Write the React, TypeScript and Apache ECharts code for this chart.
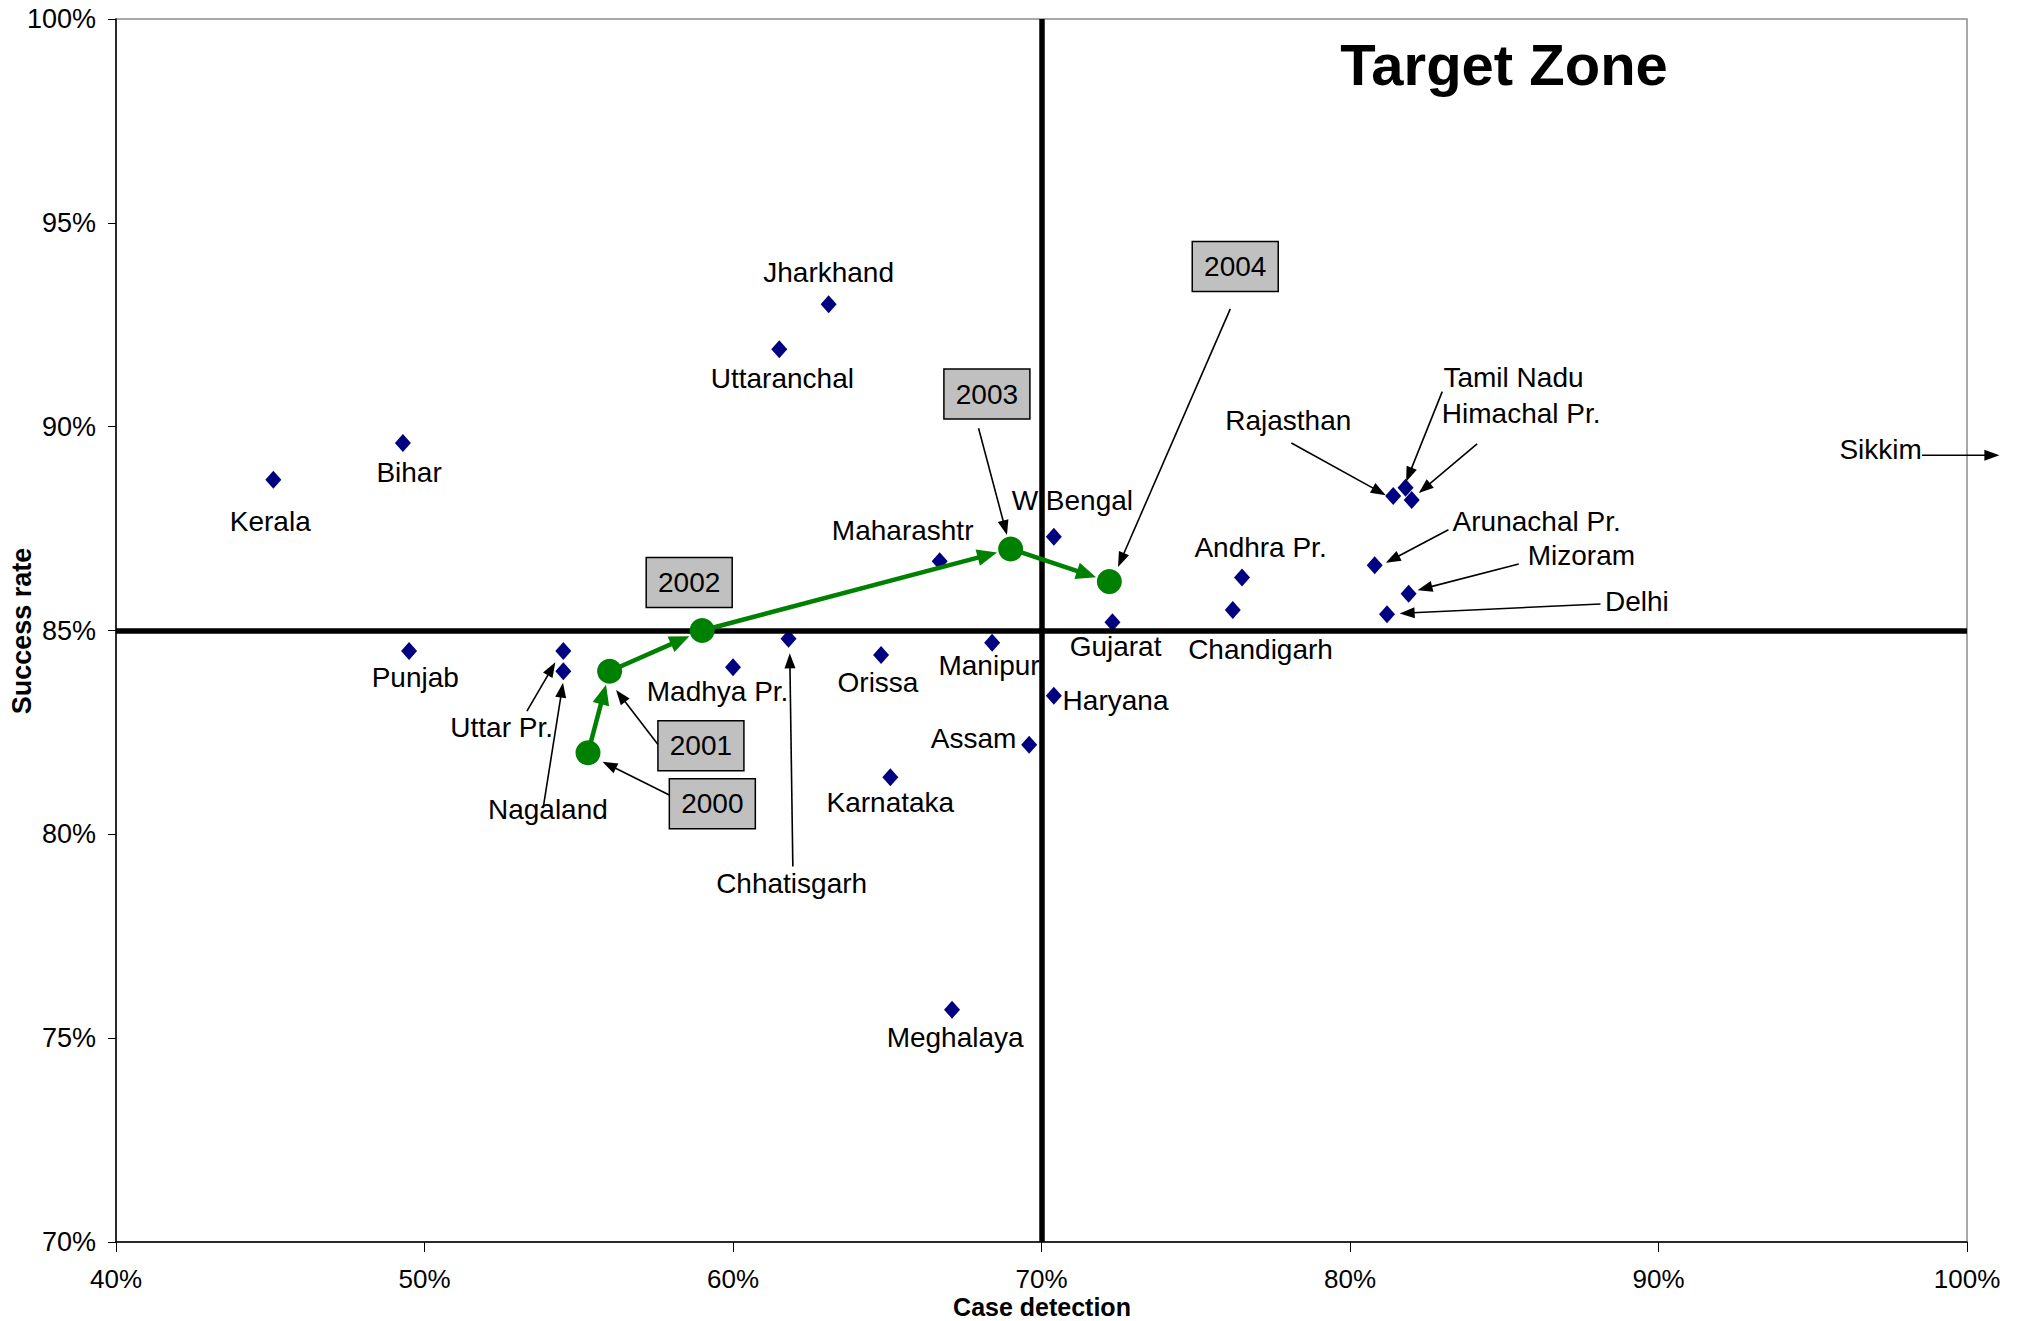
import React, { useEffect, useRef } from "react";
import * as echarts from "echarts";

const FONT = "'Liberation Sans', Arial, Helvetica, sans-serif";

// ---- data ----
const stateNames = ["Kerala", "Bihar", "Punjab", "Uttar Pr.", "Nagaland", "Madhya Pr.", "Chhatisgarh", "Uttaranchal", "Jharkhand", "Orissa", "Karnataka", "Maharashtr", "Manipur", "Meghalaya", "Assam", "W Bengal", "Haryana", "Gujarat", "Chandigarh", "Andhra Pr.", "Arunachal Pr.", "Delhi", "Mizoram", "Rajasthan", "Tamil Nadu", "Himachal Pr."];
const stateCaseDetection = [45.1, 49.3, 49.5, 54.5, 54.5, 60.0, 61.8, 61.5, 63.1, 64.8, 65.1, 66.7, 68.4, 67.1, 69.6, 70.4, 70.4, 72.3, 76.2, 76.5, 80.8, 81.2, 81.9, 81.4, 81.8, 82.0];
const stateSuccessRate = [88.7, 89.6, 84.5, 84.5, 84.0, 84.1, 84.8, 91.9, 93.0, 84.4, 81.4, 86.7, 84.7, 75.7, 82.2, 87.3, 83.4, 85.2, 85.5, 86.3, 86.6, 85.4, 85.9, 88.3, 88.5, 88.2];

const years = ["2000", "2001", "2002", "2003", "2004"];
const yearCaseDetection = [55.3, 56.0, 59.0, 69.0, 72.2];
const yearSuccessRate = [82.0, 84.0, 85.0, 87.0, 86.2];

const sikkimSuccessRate = 89.3;

const xTicks = [40, 50, 60, 70, 80, 90, 100];
const yTicks = [70, 75, 80, 85, 90, 95, 100];
const targetCaseDetection = 70;
const targetSuccessRate = 85;

// ---- annotation layout (data coordinates) ----
const stateLabelAt: number[][] = [
  [45.0, 87.67], [49.5, 88.87], [49.7, 83.84], [52.5, 82.61], [54.0, 80.62],
  [59.5, 83.5], [61.9, 78.79], [61.6, 91.18], [63.1, 93.77], [64.7, 83.72],
  [65.1, 80.78], [65.5, 87.45], [68.3, 84.13], [67.2, 75.02], [67.8, 82.36],
  [71.0, 88.18], [72.4, 83.28], [72.4, 84.6], [77.1, 84.54], [77.1, 87.04],
  [86.05, 87.67], [89.3, 85.71], [87.5, 86.85], [78.0, 90.14], [85.3, 91.21],
  [85.55, 90.33],
];
const sikkimLabelAt = [97.2, 89.44];

const yearBoxAt: number[][] = [[59.33, 80.75], [58.96, 82.17], [58.58, 86.18], [68.23, 90.8], [76.28, 93.93]];

const calloutFrom: number[][] = [
  [53.32, 83.02], [53.86, 80.71], [61.94, 79.21], [78.1, 89.6], [82.99, 90.86],
  [84.12, 89.58], [83.19, 87.47], [85.47, 86.63], [88.12, 85.65], [98.54, sikkimSuccessRate],
  [76.12, 92.89], [67.96, 89.96], [57.58, 82.19], [57.95, 80.96],
];
const calloutTo: number[][] = [
  [54.24, 84.22], [54.49, 83.72], [61.84, 84.44], [81.16, 88.32], [81.82, 88.65],
  [82.23, 88.37], [81.16, 86.66], [82.19, 85.99], [81.61, 85.42], [101.05, sikkimSuccessRate],
  [72.48, 86.56], [68.88, 87.34], [56.21, 83.54], [55.77, 81.78],
];

function arrowElements(p0: number[], p1: number[], color: string, width: number, headLen: number, headW: number, z: number) {
  const dx = p1[0] - p0[0];
  const dy = p1[1] - p0[1];
  const len = Math.sqrt(dx * dx + dy * dy) || 1;
  const ux = dx / len, uy = dy / len;
  const bx = p1[0] - ux * headLen, by = p1[1] - uy * headLen;
  const px = -uy, py = ux;
  return [
    {
      type: "line", z, silent: true,
      shape: { x1: p0[0], y1: p0[1], x2: bx + ux * 2, y2: by + uy * 2 },
      style: { stroke: color, lineWidth: width },
    },
    {
      type: "polygon", z, silent: true,
      shape: { points: [[p1[0], p1[1]], [bx + px * headW / 2, by + py * headW / 2], [bx - px * headW / 2, by - py * headW / 2]] },
      style: { fill: color },
    },
  ];
}

export default function App() {
  const ref = useRef<HTMLDivElement>(null);
  useEffect(() => {
    document.body.style.margin = "0";
    const chart = echarts.init(ref.current!, null, { renderer: "svg" });
    const option: any = {
      animation: false,
      backgroundColor: "#fff",
      grid: { left: 116, right: 53, top: 19, bottom: 79, show: true, borderColor: "#8c8c8c", borderWidth: 1.5 },
      xAxis: {
        type: "value", min: 40, max: 100, interval: 10,
        axisLine: { show: true, lineStyle: { color: "#000", width: 1.5 } },
        axisTick: { show: true, length: 10, lineStyle: { color: "#000" } },
        axisLabel: { margin: 25, fontSize: 26, lineHeight: 24, color: "#000", fontFamily: FONT, formatter: (v: number) => (xTicks.includes(v) ? v + "%" : "") },
        splitLine: { show: false },
      },
      yAxis: {
        type: "value", min: 70, max: 100, interval: 5,
        axisLine: { show: true, lineStyle: { color: "#000", width: 1.5 } },
        axisTick: { show: true, length: 8, lineStyle: { color: "#000" } },
        axisLabel: { margin: 20, fontSize: 27, color: "#000", fontFamily: FONT, formatter: (v: number) => (yTicks.includes(v) ? v + "%" : "") },
        splitLine: { show: false },
      },
      series: [
        {
          type: "scatter", name: "States", symbol: "diamond", symbolSize: [16, 18], z: 3,
          itemStyle: { color: "#000080", opacity: 1 },
          data: stateNames.map((n, i) => ({ name: n, value: [stateCaseDetection[i], stateSuccessRate[i]] })),
          markLine: {
            silent: true, symbol: "none", z: 4,
            label: { show: false },
            lineStyle: { color: "#000", width: 5.5, type: "solid", opacity: 1 },
            data: [{ xAxis: targetCaseDetection }, { yAxis: targetSuccessRate }],
          },
        },
        {
          type: "scatter", name: "India", symbol: "circle", symbolSize: 25, z: 10,
          itemStyle: { color: "#008000", opacity: 1 },
          data: years.map((y, i) => ({ name: y, value: [yearCaseDetection[i], yearSuccessRate[i]] })),
        },
      ],
    };
    chart.setOption(option);

    const toPx = (p: number[]) => chart.convertToPixel({ gridIndex: 0 }, p) as number[];
    const graphics: any[] = [];

    // green trajectory arrows
    for (let i = 0; i < years.length - 1; i++) {
      const a = toPx([yearCaseDetection[i], yearSuccessRate[i]]);
      const b = toPx([yearCaseDetection[i + 1], yearSuccessRate[i + 1]]);
      const dx = b[0] - a[0], dy = b[1] - a[1];
      const l = Math.sqrt(dx * dx + dy * dy);
      const tip = [b[0] - (dx / l) * 14, b[1] - (dy / l) * 14];
      graphics.push(...arrowElements(a, tip, "#008000", 4.5, 20, 17, 8));
    }

    // callout arrows
    for (let i = 0; i < calloutFrom.length; i++) {
      graphics.push(...arrowElements(toPx(calloutFrom[i]), toPx(calloutTo[i]), "#000", 1.6, 15, 11, 12));
    }

    // state labels
    const labelStyle = { fontSize: 28, fontFamily: FONT, fill: "#000", align: "center", verticalAlign: "middle" };
    stateNames.forEach((n, i) => {
      const p = toPx(stateLabelAt[i]);
      graphics.push({ type: "text", x: p[0], y: p[1], z: 3, silent: true, style: { ...labelStyle, text: n } });
    });
    const sp = toPx(sikkimLabelAt);
    graphics.push({ type: "text", x: sp[0], y: sp[1], z: 3, silent: true, style: { ...labelStyle, text: "Sikkim" } });

    // year boxes
    years.forEach((y, i) => {
      const p = toPx(yearBoxAt[i]);
      graphics.push({
        type: "rect", z: 12, silent: true,
        shape: { x: p[0] - 43, y: p[1] - 25, width: 86, height: 50 },
        style: { fill: "#c0c0c0", stroke: "#000", lineWidth: 1.5 },
      });
      graphics.push({ type: "text", x: p[0], y: p[1], z: 13, silent: true, style: { ...labelStyle, text: y } });
    });

    // title and axis names
    graphics.push({
      type: "text", x: 1504, y: 64, z: 20, silent: true,
      style: { text: "Target Zone", fontSize: 58, fontWeight: "bold", fontFamily: FONT, fill: "#000", align: "center", verticalAlign: "middle" },
    });
    graphics.push({
      type: "text", x: 1042, y: 1307, z: 20, silent: true,
      style: { text: "Case detection", fontSize: 25, lineHeight: 22, fontWeight: "bold", fontFamily: FONT, fill: "#000", align: "center", verticalAlign: "middle" },
    });
    graphics.push({
      type: "text", x: 22, y: 631, rotation: Math.PI / 2, z: 20, silent: true,
      style: { text: "Success rate", fontSize: 27, fontWeight: "bold", fontFamily: FONT, fill: "#000", align: "center", verticalAlign: "middle" },
    });

    chart.setOption({ graphic: { elements: graphics } });
    return () => chart.dispose();
  }, []);
  return <div ref={ref} style={{ width: 2020, height: 1321 }} />;
}
